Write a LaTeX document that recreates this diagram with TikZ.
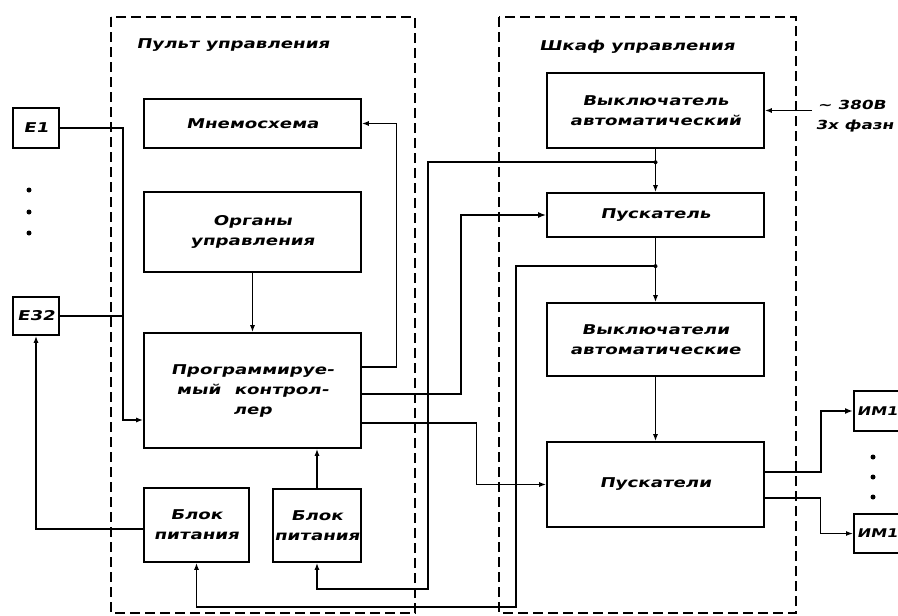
\documentclass[tikz,border=0pt]{standalone}
\usepackage{fontspec}
\newfontfamily\gostfont[FakeStretch=1.35,FakeSlant=0.2]{DejaVu Sans}
\usetikzlibrary{arrows.meta}

\begin{document}
\begin{tikzpicture}[
    x=1pt, y=-1pt,
    block/.style={
        rectangle,
        draw=black,
        line width=1.6pt,
        inner sep=0pt,
        align=center,
        font=\gostfont\bfseries\fontsize{13.5}{20}\selectfont
    },
    frame/.style={
        draw=black,
        line width=1.2pt,
        dash pattern=on 10pt off 5pt
    },
    title/.style={
        font=\gostfont\bfseries\fontsize{13.5}{20}\selectfont
    },
    wire/.style={
        line width=1.3pt,
        -{Latex[length=7pt,width=5pt]}
    },
    bus/.style={
        line width=2.5pt,
        -{Latex[length=8pt,width=6pt]}
    },
    dot/.style={
        circle,
        fill=black,
        inner sep=0pt,
        minimum size=5pt
    }
]

\path[use as bounding box] (0,0) rectangle (898,616);

\draw[frame] (111,17) rectangle (415,613);
\draw[frame] (499,17) rectangle (796,613);
\node[title] (pultlbl) at (233,45) {Пульт управления};
\node[title] (shkaflbl) at (637,47) {Шкаф управления};

\node[block, minimum width=46pt, minimum height=40pt] (e1) at (36,128) {E1};
\node[block, minimum width=46pt, minimum height=38pt] (e32) at (36,316) {E32};
\node[block, minimum width=217pt, minimum height=49pt] (mnemo) at (252.5,123.5) {Мнемосхема};
\node[block, minimum width=217pt, minimum height=80pt] (organy) at (252.5,232) {Органы\\управления};
\node[block, minimum width=217pt, minimum height=115pt] (plc) at (252.5,390.5) {Программируе-\\мый\quad контрол-\\лер};
\node[block, minimum width=105pt, minimum height=74pt] (bp1) at (196.5,525) {Блок\\питания};
\node[block, minimum width=88pt, minimum height=73pt] (bp2) at (317,525.5) {Блок\\питания};

\node[block, minimum width=217pt, minimum height=75pt] (vykl) at (655.5,110.5) {Выключатель\\автоматический};
\node[block, minimum width=217pt, minimum height=44pt] (pusk) at (655.5,215) {Пускатель};
\node[block, minimum width=217pt, minimum height=73pt] (vykls) at (655.5,339.5) {Выключатели\\автоматические};
\node[block, minimum width=217pt, minimum height=85pt] (pusks) at (655.5,484.5) {Пускатели};
\node[block, anchor=west, minimum height=40pt, text width=66pt, align=left, inner xsep=3pt,
      font=\gostfont\bfseries\fontsize{12}{16}\selectfont] (im1) at (853,411) {ИМ1};
\node[block, anchor=west, minimum height=39pt, text width=66pt, align=left, inner xsep=3pt,
      font=\gostfont\bfseries\fontsize{12}{16}\selectfont] (imn) at (853,533.5) {ИМ16};
\node[title, anchor=west, align=left, font=\gostfont\bfseries\fontsize{12.5}{20}\selectfont] (pwr) at (812,116) {\,∼ 380В\\3х фазн};

\foreach \y [count=\i] in {190,212,233}
    \node[dot] (edot\i) at (29,\y) {};
\foreach \y [count=\i] in {457,477,497}
    \node[dot] (imdot\i) at (873,\y) {};

\coordinate (inbus) at (123,420);
\draw[wire] (e1.east) -| (inbus) -- (inbus -| plc.west);
\draw[line width=1.3pt] (e32.east) -- (e32.east -| inbus);
\draw[wire, line width=1.8pt] ([yshift=-4pt]bp1.west) -| (e32.south);
\draw[wire] (organy.south) -- (plc.north);
\draw[wire] ([yshift=23.5pt]plc.east) -- ++(35,0) |- (mnemo.east);
\draw[wire] (bp2.north) -- (bp2.north |- plc.south);
\draw[bus] ([yshift=-3.5pt]plc.east) -- ++(99,0) |- (pusk.west);
\draw[wire] ([yshift=-32.5pt]plc.east) -- ++(115,0) |- (pusks.west);

\draw[wire, line width=1.8pt] (vykl.east -| pwr.west) -- (vykl.east);
\draw[wire] (vykl.south) -- (pusk.north);
\draw[wire] (pusk.south) -- (vykls.north);
\draw[wire] (vykls.south) -- (pusks.north);

\path (vykl.south) -- (pusk.north) coordinate[pos=0.31] (ja);
\path (pusk.south) -- (vykls.north) coordinate[pos=0.44] (jb);
\coordinate (fa) at (428,589);
\coordinate (fb) at (516,607);
\node[dot, minimum size=4pt] (jadot) at (ja) {};
\node[dot, minimum size=4pt] (jbdot) at (jb) {};
\draw[wire, line width=2pt] (ja) -| (fa) -| (bp2.south);
\draw[wire] (jb) -| (fb) -| (bp1.south);

\draw[bus] ([yshift=12.5pt]pusks.east) -- ++(56,0) |- (im1.west);
\draw[wire] ([yshift=-13.5pt]pusks.east) -- ++(56,0) |- (imn.west);

\end{tikzpicture}
\end{document}
